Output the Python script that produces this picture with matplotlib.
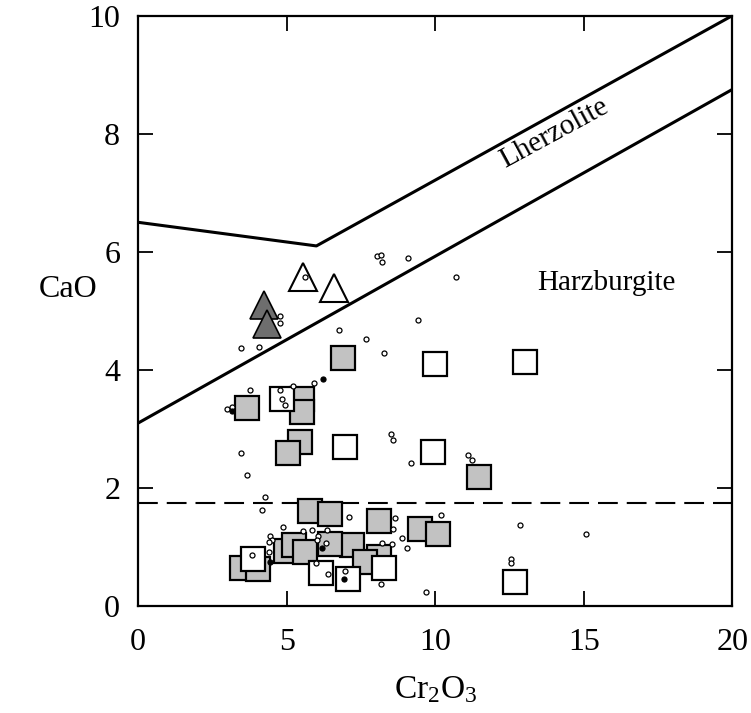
import matplotlib.pyplot as plt

plt.rcParams['font.family'] = 'Liberation Serif'
plt.rcParams['mathtext.fontset'] = 'custom'
plt.rcParams['mathtext.rm'] = 'Liberation Serif'
plt.rcParams['mathtext.it'] = 'Liberation Serif'

# field boundaries
upper_x = [0, 6, 20]
upper_y = [6.5, 6.1, 10]
lower_x = [0, 20]
lower_y = [3.1, 8.75]
dash_y = 1.75

# shaded squares
gray_x = [3.68, 5.53, 5.53, 6.91, 5.46, 5.06, 11.46, 5.77, 6.47, 8.10, 9.48, 10.10,
          4.96, 5.23, 5.60, 7.21, 6.45, 8.10, 7.62, 3.50, 4.05]
gray_y = [3.36, 3.50, 3.29, 4.21, 2.78, 2.60, 2.18, 1.61, 1.56, 1.44, 1.31, 1.22,
          0.93, 1.04, 0.92, 1.04, 1.05, 0.83, 0.75, 0.65, 0.63]

# open squares
open_x = [4.85, 6.97, 9.98, 13.03, 9.94, 3.88, 6.14, 7.08, 8.27, 12.70]
open_y = [3.51, 2.69, 4.10, 4.13, 2.61, 0.80, 0.56, 0.45, 0.65, 0.40]

# triangles
tri_fill_x = [4.25, 4.34]
tri_fill_y = [5.10, 4.77]
tri_open_x = [5.56, 6.59]
tri_open_y = [5.57, 5.39]

# small circles
dot_x = [5.6, 8.03, 8.16, 8.2, 9.07, 10.69, 9.43, 6.76, 7.67, 4.77, 4.77, 3.47, 4.06,
         8.27, 8.5, 8.59, 9.2, 11.12, 11.23, 3.78, 2.99, 3.16, 4.77, 4.85, 4.93, 5.2,
         5.91, 3.46, 3.67, 4.26, 4.17, 4.88, 4.43, 4.51, 4.4, 5.54, 5.85, 6.36, 6.06,
         6.03, 4.4, 3.83, 6.38, 7.09, 8.63, 8.59, 10.18, 8.2, 8.56, 8.89, 9.04, 6.97,
         8.19, 9.68, 6.31, 15.08, 12.85, 12.55, 12.55, 5.97]
dot_y = [5.58, 5.93, 5.95, 5.83, 5.9, 5.57, 4.84, 4.67, 4.53, 4.91, 4.8, 4.37, 4.39,
         4.29, 2.92, 2.82, 2.43, 2.56, 2.47, 3.66, 3.34, 3.37, 3.66, 3.5, 3.41, 3.72,
         3.78, 2.59, 2.22, 1.85, 1.63, 1.34, 1.18, 1.12, 1.09, 1.27, 1.29, 1.28, 1.18,
         1.12, 0.92, 0.87, 0.54, 1.51, 1.49, 1.3, 1.55, 1.07, 1.05, 1.16, 0.99, 0.6,
         0.37, 0.24, 1.07, 1.22, 1.38, 0.8, 0.73, 0.73]
solid_dot_x = [6.23, 3.16, 6.2, 4.45, 6.92]
solid_dot_y = [3.84, 3.3, 0.98, 0.74, 0.45]

fig = plt.figure(figsize=(7.51, 7.13), dpi=100)
ax = fig.add_axes([0.184, 0.150, 0.791, 0.828])

ax.plot(upper_x, upper_y, color='black', lw=2.2, zorder=2)
ax.plot(lower_x, lower_y, color='black', lw=2.2, zorder=2)
ax.axhline(dash_y, color='black', lw=1.5, dashes=(9.5, 4.3), zorder=2)

ax.plot(tri_fill_x, tri_fill_y, '^', ms=20, mfc='#6e6e6e', mec='black', mew=1.2, zorder=3)
ax.plot(tri_open_x, tri_open_y, '^', ms=20, mfc='white', mec='black', mew=1.5, zorder=3)

ax.plot(gray_x, gray_y, 's', ms=17, mfc='#c2c2c2', mec='black', mew=1.6, zorder=3)
ax.plot(open_x, open_y, 's', ms=17, mfc='white', mec='black', mew=1.6, zorder=3)

ax.plot(dot_x, dot_y, 'o', ms=3.6, mfc='white', mec='black', mew=0.9, zorder=4)
ax.plot(solid_dot_x, solid_dot_y, 'o', ms=3.6, mfc='black', mec='black', mew=0.9, zorder=4)

ax.text(14.0, 8.0, 'Lherzolite', fontsize=21, rotation=28.5,
        ha='center', va='center', rotation_mode='anchor')
ax.text(15.75, 5.48, 'Harzburgite', fontsize=21, ha='center', va='center')

ax.set_xlim(0, 20)
ax.set_ylim(0, 10)
ax.set_xticks([0, 5, 10, 15, 20])
ax.set_yticks([0, 2, 4, 6, 8, 10])
ax.tick_params(direction='in', length=11, width=1.3, labelsize=23,
               top=True, right=True)
ax.tick_params(axis='x', pad=16)
ax.tick_params(axis='y', pad=13)
for s in ax.spines.values():
    s.set_linewidth(1.6)

ax.set_xlabel('Cr$_2$O$_3$', fontsize=24, labelpad=12)
ax.set_ylabel('CaO', fontsize=23, rotation=0, va='center', ha='center')
ax.yaxis.set_label_coords(-0.118, 0.536)

fig.savefig('out.png', dpi=100)
